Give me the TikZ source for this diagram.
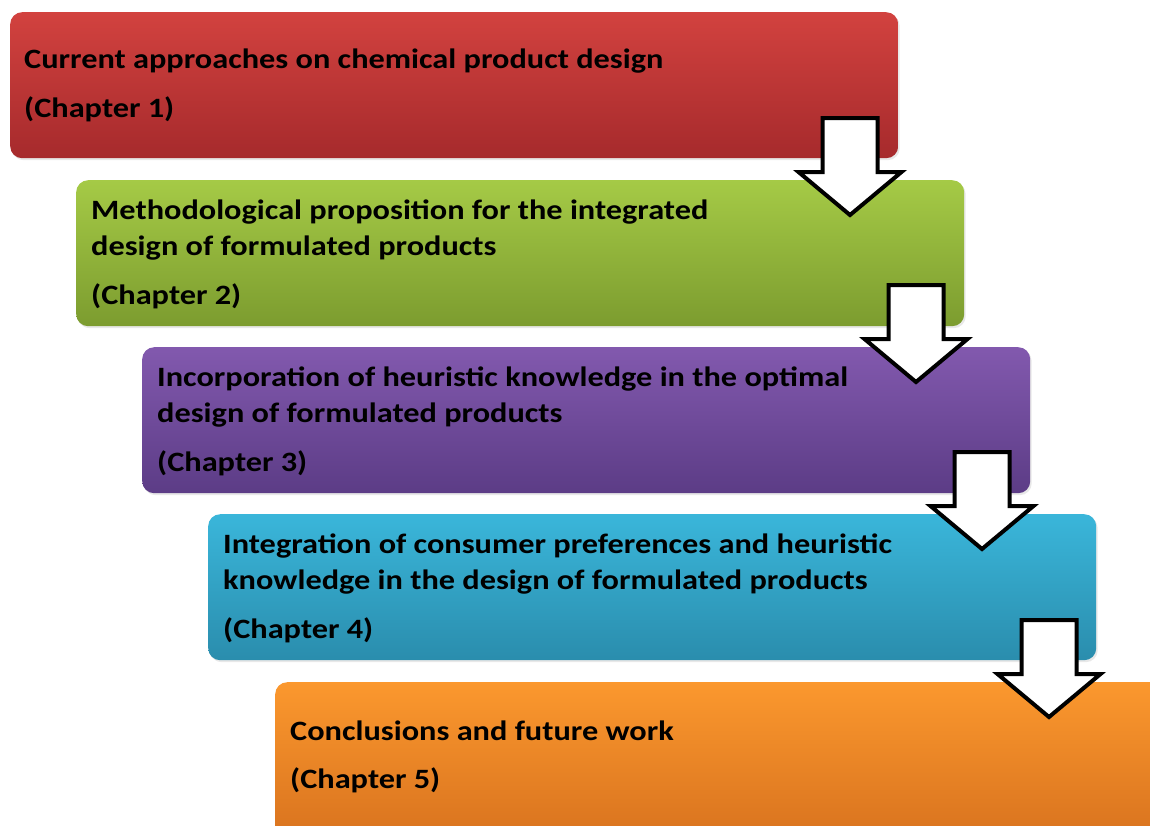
\documentclass[tikz,border=0pt]{standalone}
\usepackage{fontspec}
\setmainfont{Carlito}[FakeStretch=1.155]
\usetikzlibrary{shadows}
\definecolor{redT}{HTML}{D2423F}
\definecolor{redB}{HTML}{A62A2C}
\definecolor{grnT}{HTML}{A5CA46}
\definecolor{grnB}{HTML}{7C9C2F}
\definecolor{purT}{HTML}{8259AE}
\definecolor{purB}{HTML}{5C3C86}
\definecolor{bluT}{HTML}{3AB6DA}
\definecolor{bluB}{HTML}{2A8DAD}
\definecolor{orgT}{HTML}{FB982E}
\definecolor{orgB}{HTML}{D8721E}
\tikzset{
  chapbox/.style={rectangle, rounded corners=12pt, anchor=north west,
    minimum width=888pt, minimum height=146pt, inner sep=0pt,
    drop shadow={opacity=0.18, shadow xshift=1.5pt, shadow yshift=-2pt}},
  txt/.style={anchor=base west, inner sep=0pt, font=\fontsize{28}{35}\selectfont\bfseries, text=black},
  blockarrow/.style={draw=black, fill=white, line width=4pt, miter limit=10, line join=miter},
  pics/downarrow/.style={code={
    \draw[blockarrow] (-27.5,0) -- (27.5,0) -- (27.5,54) -- (51.5,54) -- (0,97)
      -- (-51.5,54) -- (-27.5,54) -- cycle;
  }}
}
\begin{document}
\begin{tikzpicture}[x=1pt,y=-1pt]
\useasboundingbox (0,0) rectangle (1150,825);
\clip (0,0) rectangle (1150,825);
\fill[white] (0,0) rectangle (1150,825);
% boxes
\node[chapbox, top color=redT, bottom color=redB] (b1) at (10,12) {};
\node[chapbox, top color=grnT, bottom color=grnB] (b2) at (76,180) {};
\node[chapbox, top color=purT, bottom color=purB] (b3) at (142,347) {};
\node[chapbox, top color=bluT, bottom color=bluB] (b4) at (208,514) {};
\node[chapbox, top color=orgT, bottom color=orgB, minimum height=160pt] (b5) at (275,682) {};
% texts
\node[txt] (t1a) at (24,68) {Current approaches on chemical product design};
\node[txt] (t1b) at (24,117) {(Chapter 1)};
\node[txt] (t2a) at (91,219) {Methodological proposition for the integrated};
\node[txt] (t2b) at (91,255) {design of formulated products};
\node[txt] (t2c) at (91,304) {(Chapter 2)};
\node[txt] (t3a) at (157,386) {Incorporation of heuristic knowledge in the optimal};
\node[txt] (t3b) at (157,422) {design of formulated products};
\node[txt] (t3c) at (157,471) {(Chapter 3)};
\node[txt] (t4a) at (223,553) {Integration of consumer preferences and heuristic};
\node[txt] (t4b) at (223,589) {knowledge in the design of formulated products};
\node[txt] (t4c) at (223,638) {(Chapter 4)};
\node[txt] (t5a) at (290,740) {Conclusions and future work};
\node[txt] (t5b) at (290,788) {(Chapter 5)};
% arrows
\pic (a1) at (850,118) {downarrow};
\pic (a2) at (916,285) {downarrow};
\pic (a3) at (982,452) {downarrow};
\pic (a4) at (1049,620) {downarrow};
\end{tikzpicture}
\end{document}
